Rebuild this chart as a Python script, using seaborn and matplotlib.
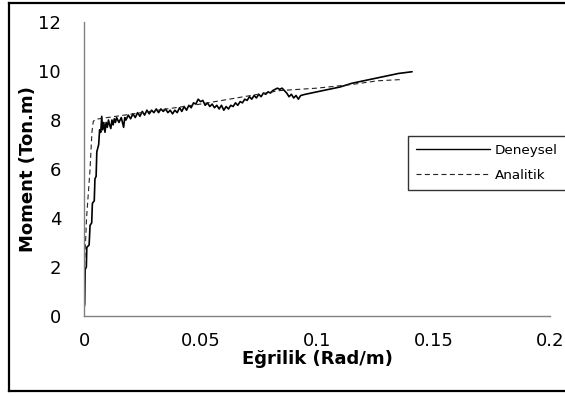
import matplotlib
matplotlib.use("Agg")
import matplotlib.pyplot as plt
import seaborn as sns
import pandas as pd
from matplotlib.lines import Line2D

# ---- data ----
deneysel_x = [0, 0.0003, 0.0005, 0.0010, 0.0012, 0.0022, 0.0026, 0.0033, 0.0036, 0.0044,
              0.0047, 0.0052, 0.0055, 0.0063, 0.0067, 0.0072, 0.0076,
              0.0080, 0.0085, 0.0090, 0.0095, 0.0100, 0.0105, 0.0110, 0.0115, 0.0120,
              0.0125, 0.0130, 0.0135, 0.0140, 0.0150, 0.0160, 0.0170, 0.0175, 0.0180,
              0.0190, 0.0200, 0.0210, 0.0220, 0.0230, 0.0240, 0.0250, 0.0260, 0.0270,
              0.0280, 0.0290, 0.0300, 0.0310, 0.0320, 0.0330, 0.0340, 0.0350, 0.0360,
              0.0370, 0.0380, 0.0390, 0.0400, 0.0410, 0.0420, 0.0430, 0.0440, 0.0450,
              0.0460, 0.0470, 0.0480, 0.0490, 0.0500, 0.0510, 0.0520, 0.0530, 0.0540,
              0.0550, 0.0560, 0.0570, 0.0580, 0.0590, 0.0600, 0.0610, 0.0620, 0.0630,
              0.0640, 0.0650, 0.0660, 0.0670, 0.0680, 0.0690, 0.0700, 0.0710, 0.0720,
              0.0730, 0.0740, 0.0750, 0.0760, 0.0770, 0.0780, 0.0790, 0.0800, 0.0810,
              0.0820, 0.0830, 0.0840, 0.0850, 0.0860, 0.0870, 0.0880, 0.0890, 0.0900,
              0.0910, 0.0920, 0.0930, 0.0950, 0.1000, 0.1050, 0.1100, 0.1150, 0.1200,
              0.1250, 0.1300, 0.1350, 0.1408]
deneysel_y = [0.3, 0.5, 1.9, 2.0, 2.8, 2.9, 3.7, 3.8, 4.6, 4.7,
              5.6, 5.7, 6.7, 7.0, 7.6, 7.5, 8.15,
              7.6, 7.9, 7.5, 7.9, 7.7, 8.0, 7.8, 7.65, 8.0,
              7.8, 8.05, 7.9, 8.1, 7.9, 8.1, 7.7, 8.1, 8.0,
              8.2, 8.05, 8.25, 8.1, 8.3, 8.15, 8.35, 8.2, 8.4,
              8.25, 8.4, 8.3, 8.45, 8.3, 8.45, 8.35, 8.45, 8.3,
              8.4, 8.25, 8.4, 8.3, 8.5, 8.35, 8.55, 8.4, 8.6,
              8.5, 8.7, 8.65, 8.85, 8.75, 8.8, 8.6, 8.7, 8.55,
              8.65, 8.5, 8.6, 8.45, 8.6, 8.4, 8.55, 8.45, 8.6,
              8.55, 8.7, 8.6, 8.75, 8.7, 8.85, 8.8, 8.95, 8.85,
              9.0, 8.9, 9.05, 8.95, 9.1, 9.05, 9.15, 9.1, 9.2,
              9.25, 9.3, 9.25, 9.3, 9.2, 9.1, 8.95, 9.05, 8.9,
              9.0, 8.85, 9.0, 9.05, 9.15, 9.25, 9.35, 9.5, 9.6,
              9.7, 9.8, 9.9, 9.97]

analitik_x = [0, 0.0002, 0.0011, 0.0026, 0.0034, 0.0040, 0.0050, 0.0500, 0.0840,
              0.1000, 0.1150, 0.1260, 0.1360]
analitik_y = [0, 2.0, 4.0, 6.0, 7.5, 7.95, 8.03, 8.65, 9.2,
              9.3, 9.45, 9.6, 9.65]

x_ticks = [0, 0.05, 0.1, 0.15, 0.2]
x_tick_labels = ["0", "0.05", "0.1", "0.15", "0.2"]
y_ticks = [0, 2, 4, 6, 8, 10, 12]
series_names = ["Deneysel", "Analitik"]

sns.set_theme(style="white")
plt.rcParams["font.family"] = ["DejaVu Sans"]
plt.rcParams["text.color"] = "black"
plt.rcParams["axes.labelcolor"] = "black"

W, H = 565, 396
fig = plt.figure(figsize=(W / 100, H / 100), dpi=100)
ax = fig.add_axes([84 / W, 1 - 316 / H, (550 - 84) / W, (316 - 22) / H])

df_d = pd.DataFrame({"x": deneysel_x, "y": deneysel_y})
df_a = pd.DataFrame({"x": analitik_x, "y": analitik_y})
sns.lineplot(data=df_d, x="x", y="y", ax=ax, sort=False, estimator=None,
             color="black", linewidth=1.2)
sns.lineplot(data=df_a, x="x", y="y", ax=ax, sort=False, estimator=None,
             color="#222222", linewidth=0.8, linestyle=(0, (4.5, 3)))

ax.set_xlim(0, 0.2)
ax.set_ylim(0, 12)
ax.set_xticks(x_ticks)
ax.set_xticklabels(x_tick_labels)
ax.set_yticks(y_ticks)

for s in ["top", "right"]:
    ax.spines[s].set_visible(False)
for s in ["left", "bottom"]:
    ax.spines[s].set_color("#808080")
    ax.spines[s].set_linewidth(1.0)

ax.tick_params(axis="both", which="major", direction="out", length=4.5, width=1.0,
               color="#808080", labelsize=13, labelcolor="black")
ax.tick_params(axis="y", pad=12)
ax.tick_params(axis="x", pad=7)
ax.grid(False)

ax.set_xlabel("Eğrilik (Rad/m)", fontsize=13, fontweight="bold", labelpad=0, color="black")
ax.set_ylabel("Moment (Ton.m)", fontsize=13, fontweight="bold", labelpad=1, color="black")

handles = [Line2D([], [], color="black", linewidth=1.0),
           Line2D([], [], color="#222222", linewidth=0.8, linestyle=(0, (4.5, 3)))]
leg = fig.legend(handles, series_names, loc="upper left",
                 bbox_to_anchor=(408 / W, 1 - 136 / H), bbox_transform=fig.transFigure,
                 borderaxespad=0, fontsize=9.7, handlelength=5.5, handletextpad=0.35,
                 labelspacing=0.85, borderpad=0.6, frameon=True, fancybox=False)
leg.get_frame().set_edgecolor("black")
leg.get_frame().set_linewidth(1.0)
for t in leg.get_texts():
    t.set_color("black")

# outer frame of the chart area: top, left and bottom edges (right side runs off the image)
x0, y_top, y_bot = 9 / W, 1 - 3 / H, 1 - 391 / H
for xs, ys in [([x0, 1.0], [y_top, y_top]), ([x0, x0], [y_top, y_bot]), ([x0, 1.0], [y_bot, y_bot])]:
    fig.add_artist(Line2D(xs, ys, transform=fig.transFigure, color="black",
                          linewidth=1.6, solid_capstyle="projecting"))

fig.savefig("out.png", dpi=100)
